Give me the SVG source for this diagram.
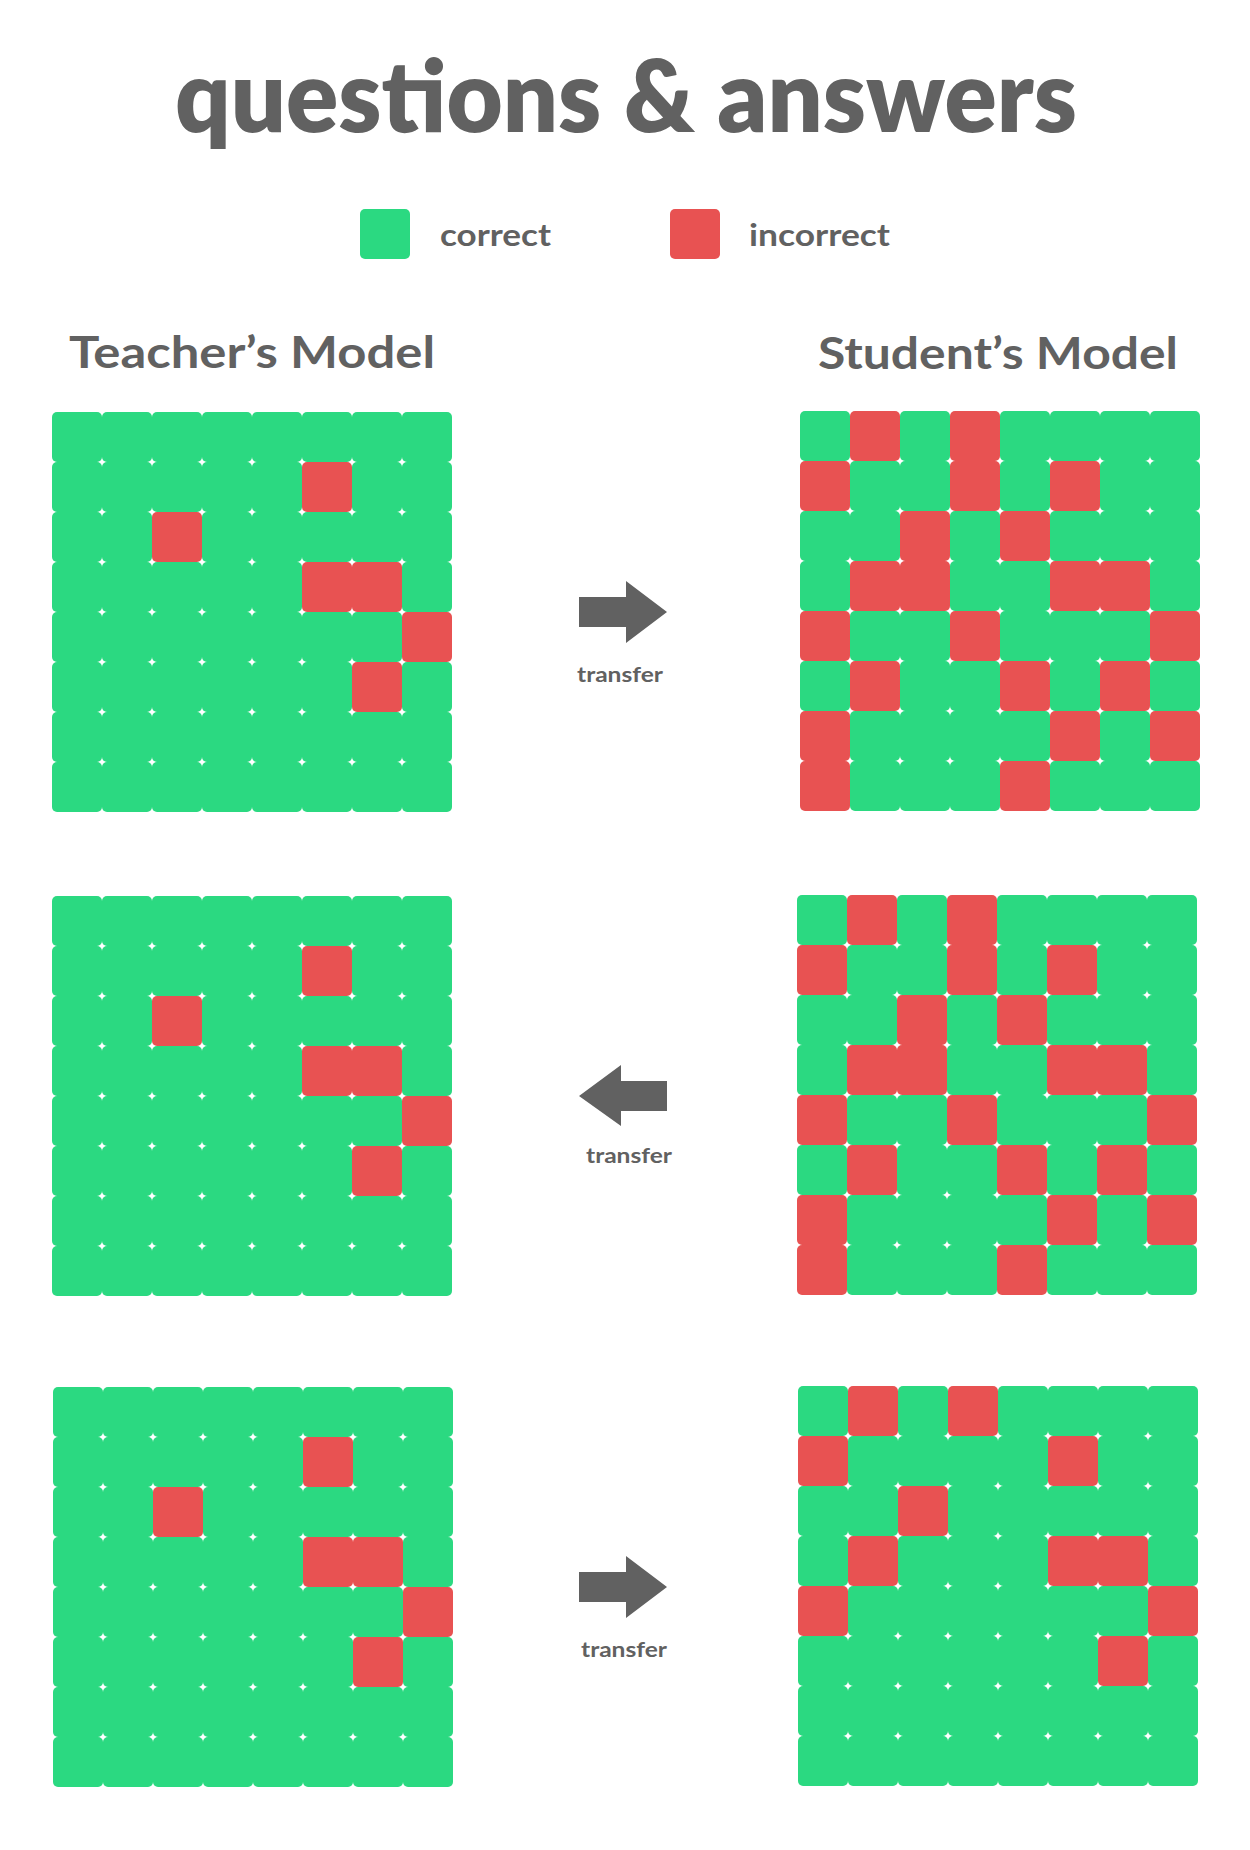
<svg xmlns="http://www.w3.org/2000/svg" xmlns:xlink="http://www.w3.org/1999/xlink" width="1250" height="1850" viewBox="0 0 1250 1850">
  <style>
    .txt { font-family: Lato, "Open Sans", "Liberation Sans", sans-serif; fill: #616161; font-weight: 700; }
    .heading { font-weight: 800; }
    .ok { fill: #2bd981; }
    .bad { fill: #e85252; }
    .arrow { fill: #616161; }
  </style>
  <defs>
    <rect id="cell" width="50" height="50" rx="5" ry="5"/>
    <!-- teacher grid: 8x8, six wrong answers -->
    <g id="teacherGrid">
      <g class="ok">
        <use xlink:href="#cell" x="0" y="0"/><use xlink:href="#cell" x="50" y="0"/><use xlink:href="#cell" x="100" y="0"/><use xlink:href="#cell" x="150" y="0"/><use xlink:href="#cell" x="200" y="0"/><use xlink:href="#cell" x="250" y="0"/><use xlink:href="#cell" x="300" y="0"/><use xlink:href="#cell" x="350" y="0"/>
        <use xlink:href="#cell" x="0" y="50"/><use xlink:href="#cell" x="50" y="50"/><use xlink:href="#cell" x="100" y="50"/><use xlink:href="#cell" x="150" y="50"/><use xlink:href="#cell" x="200" y="50"/><use xlink:href="#cell" x="300" y="50"/><use xlink:href="#cell" x="350" y="50"/>
        <use xlink:href="#cell" x="0" y="100"/><use xlink:href="#cell" x="50" y="100"/><use xlink:href="#cell" x="150" y="100"/><use xlink:href="#cell" x="200" y="100"/><use xlink:href="#cell" x="250" y="100"/><use xlink:href="#cell" x="300" y="100"/><use xlink:href="#cell" x="350" y="100"/>
        <use xlink:href="#cell" x="0" y="150"/><use xlink:href="#cell" x="50" y="150"/><use xlink:href="#cell" x="100" y="150"/><use xlink:href="#cell" x="150" y="150"/><use xlink:href="#cell" x="200" y="150"/><use xlink:href="#cell" x="350" y="150"/>
        <use xlink:href="#cell" x="0" y="200"/><use xlink:href="#cell" x="50" y="200"/><use xlink:href="#cell" x="100" y="200"/><use xlink:href="#cell" x="150" y="200"/><use xlink:href="#cell" x="200" y="200"/><use xlink:href="#cell" x="250" y="200"/><use xlink:href="#cell" x="300" y="200"/>
        <use xlink:href="#cell" x="0" y="250"/><use xlink:href="#cell" x="50" y="250"/><use xlink:href="#cell" x="100" y="250"/><use xlink:href="#cell" x="150" y="250"/><use xlink:href="#cell" x="200" y="250"/><use xlink:href="#cell" x="250" y="250"/><use xlink:href="#cell" x="350" y="250"/>
        <use xlink:href="#cell" x="0" y="300"/><use xlink:href="#cell" x="50" y="300"/><use xlink:href="#cell" x="100" y="300"/><use xlink:href="#cell" x="150" y="300"/><use xlink:href="#cell" x="200" y="300"/><use xlink:href="#cell" x="250" y="300"/><use xlink:href="#cell" x="300" y="300"/><use xlink:href="#cell" x="350" y="300"/>
        <use xlink:href="#cell" x="0" y="350"/><use xlink:href="#cell" x="50" y="350"/><use xlink:href="#cell" x="100" y="350"/><use xlink:href="#cell" x="150" y="350"/><use xlink:href="#cell" x="200" y="350"/><use xlink:href="#cell" x="250" y="350"/><use xlink:href="#cell" x="300" y="350"/><use xlink:href="#cell" x="350" y="350"/>
      </g>
      <g class="bad">
        <use xlink:href="#cell" x="250" y="50"/>
        <use xlink:href="#cell" x="100" y="100"/>
        <use xlink:href="#cell" x="250" y="150"/><use xlink:href="#cell" x="300" y="150"/>
        <use xlink:href="#cell" x="350" y="200"/>
        <use xlink:href="#cell" x="300" y="250"/>
      </g>
    </g>
    <!-- student grid before learning back from the teacher -->
    <g id="studentGridA">
      <g class="ok">
        <use xlink:href="#cell" x="0" y="0"/><use xlink:href="#cell" x="100" y="0"/><use xlink:href="#cell" x="200" y="0"/><use xlink:href="#cell" x="250" y="0"/><use xlink:href="#cell" x="300" y="0"/><use xlink:href="#cell" x="350" y="0"/>
        <use xlink:href="#cell" x="50" y="50"/><use xlink:href="#cell" x="100" y="50"/><use xlink:href="#cell" x="200" y="50"/><use xlink:href="#cell" x="300" y="50"/><use xlink:href="#cell" x="350" y="50"/>
        <use xlink:href="#cell" x="0" y="100"/><use xlink:href="#cell" x="50" y="100"/><use xlink:href="#cell" x="150" y="100"/><use xlink:href="#cell" x="250" y="100"/><use xlink:href="#cell" x="300" y="100"/><use xlink:href="#cell" x="350" y="100"/>
        <use xlink:href="#cell" x="0" y="150"/><use xlink:href="#cell" x="150" y="150"/><use xlink:href="#cell" x="200" y="150"/><use xlink:href="#cell" x="350" y="150"/>
        <use xlink:href="#cell" x="50" y="200"/><use xlink:href="#cell" x="100" y="200"/><use xlink:href="#cell" x="200" y="200"/><use xlink:href="#cell" x="250" y="200"/><use xlink:href="#cell" x="300" y="200"/>
        <use xlink:href="#cell" x="0" y="250"/><use xlink:href="#cell" x="100" y="250"/><use xlink:href="#cell" x="150" y="250"/><use xlink:href="#cell" x="250" y="250"/><use xlink:href="#cell" x="350" y="250"/>
        <use xlink:href="#cell" x="50" y="300"/><use xlink:href="#cell" x="100" y="300"/><use xlink:href="#cell" x="150" y="300"/><use xlink:href="#cell" x="200" y="300"/><use xlink:href="#cell" x="300" y="300"/>
        <use xlink:href="#cell" x="50" y="350"/><use xlink:href="#cell" x="100" y="350"/><use xlink:href="#cell" x="150" y="350"/><use xlink:href="#cell" x="250" y="350"/><use xlink:href="#cell" x="300" y="350"/><use xlink:href="#cell" x="350" y="350"/>
      </g>
      <g class="bad">
        <use xlink:href="#cell" x="50" y="0"/><use xlink:href="#cell" x="150" y="0"/>
        <use xlink:href="#cell" x="0" y="50"/><use xlink:href="#cell" x="150" y="50"/><use xlink:href="#cell" x="250" y="50"/>
        <use xlink:href="#cell" x="100" y="100"/><use xlink:href="#cell" x="200" y="100"/>
        <use xlink:href="#cell" x="50" y="150"/><use xlink:href="#cell" x="100" y="150"/><use xlink:href="#cell" x="250" y="150"/><use xlink:href="#cell" x="300" y="150"/>
        <use xlink:href="#cell" x="0" y="200"/><use xlink:href="#cell" x="150" y="200"/><use xlink:href="#cell" x="350" y="200"/>
        <use xlink:href="#cell" x="50" y="250"/><use xlink:href="#cell" x="200" y="250"/><use xlink:href="#cell" x="300" y="250"/>
        <use xlink:href="#cell" x="0" y="300"/><use xlink:href="#cell" x="250" y="300"/><use xlink:href="#cell" x="350" y="300"/>
        <use xlink:href="#cell" x="0" y="350"/><use xlink:href="#cell" x="200" y="350"/>
      </g>
    </g>
    <!-- student grid after the second transfer -->
    <g id="studentGridB">
      <g class="ok">
        <use xlink:href="#cell" x="0" y="0"/><use xlink:href="#cell" x="100" y="0"/><use xlink:href="#cell" x="200" y="0"/><use xlink:href="#cell" x="250" y="0"/><use xlink:href="#cell" x="300" y="0"/><use xlink:href="#cell" x="350" y="0"/>
        <use xlink:href="#cell" x="50" y="50"/><use xlink:href="#cell" x="100" y="50"/><use xlink:href="#cell" x="150" y="50"/><use xlink:href="#cell" x="200" y="50"/><use xlink:href="#cell" x="300" y="50"/><use xlink:href="#cell" x="350" y="50"/>
        <use xlink:href="#cell" x="0" y="100"/><use xlink:href="#cell" x="50" y="100"/><use xlink:href="#cell" x="150" y="100"/><use xlink:href="#cell" x="200" y="100"/><use xlink:href="#cell" x="250" y="100"/><use xlink:href="#cell" x="300" y="100"/><use xlink:href="#cell" x="350" y="100"/>
        <use xlink:href="#cell" x="0" y="150"/><use xlink:href="#cell" x="100" y="150"/><use xlink:href="#cell" x="150" y="150"/><use xlink:href="#cell" x="200" y="150"/><use xlink:href="#cell" x="350" y="150"/>
        <use xlink:href="#cell" x="50" y="200"/><use xlink:href="#cell" x="100" y="200"/><use xlink:href="#cell" x="150" y="200"/><use xlink:href="#cell" x="200" y="200"/><use xlink:href="#cell" x="250" y="200"/><use xlink:href="#cell" x="300" y="200"/>
        <use xlink:href="#cell" x="0" y="250"/><use xlink:href="#cell" x="50" y="250"/><use xlink:href="#cell" x="100" y="250"/><use xlink:href="#cell" x="150" y="250"/><use xlink:href="#cell" x="200" y="250"/><use xlink:href="#cell" x="250" y="250"/><use xlink:href="#cell" x="350" y="250"/>
        <use xlink:href="#cell" x="0" y="300"/><use xlink:href="#cell" x="50" y="300"/><use xlink:href="#cell" x="100" y="300"/><use xlink:href="#cell" x="150" y="300"/><use xlink:href="#cell" x="200" y="300"/><use xlink:href="#cell" x="250" y="300"/><use xlink:href="#cell" x="300" y="300"/><use xlink:href="#cell" x="350" y="300"/>
        <use xlink:href="#cell" x="0" y="350"/><use xlink:href="#cell" x="50" y="350"/><use xlink:href="#cell" x="100" y="350"/><use xlink:href="#cell" x="150" y="350"/><use xlink:href="#cell" x="200" y="350"/><use xlink:href="#cell" x="250" y="350"/><use xlink:href="#cell" x="300" y="350"/><use xlink:href="#cell" x="350" y="350"/>
      </g>
      <g class="bad">
        <use xlink:href="#cell" x="50" y="0"/><use xlink:href="#cell" x="150" y="0"/>
        <use xlink:href="#cell" x="0" y="50"/><use xlink:href="#cell" x="250" y="50"/>
        <use xlink:href="#cell" x="100" y="100"/>
        <use xlink:href="#cell" x="50" y="150"/><use xlink:href="#cell" x="250" y="150"/><use xlink:href="#cell" x="300" y="150"/>
        <use xlink:href="#cell" x="0" y="200"/><use xlink:href="#cell" x="350" y="200"/>
        <use xlink:href="#cell" x="300" y="250"/>
      </g>
    </g>
  </defs>

  <rect width="1250" height="1850" fill="#ffffff"/>

  <!-- heading and legend -->
  <g id="title">
    <text class="txt heading" x="626" y="132" font-size="100" text-anchor="middle" textLength="902" lengthAdjust="spacingAndGlyphs">questions &amp; answers</text>
  </g>
  <g id="legend-correct">
    <rect class="ok" x="360" y="209" width="50" height="50" rx="5"/>
    <text class="txt" x="440" y="246" font-size="31" textLength="111" lengthAdjust="spacingAndGlyphs">correct</text>
  </g>
  <g id="legend-incorrect">
    <rect class="bad" x="670" y="209" width="50" height="50" rx="5"/>
    <text class="txt" x="749" y="246" font-size="31" textLength="141" lengthAdjust="spacingAndGlyphs">incorrect</text>
  </g>
  <g id="label-teacher">
    <text class="txt" x="69" y="368" font-size="44" textLength="366" lengthAdjust="spacingAndGlyphs">Teacher’s Model</text>
  </g>
  <g id="label-student">
    <text class="txt" x="818" y="369" font-size="44" textLength="360" lengthAdjust="spacingAndGlyphs">Student’s Model</text>
  </g>

  <!-- model grids -->
  <g id="teacher-1"><use xlink:href="#teacherGrid" x="52" y="412"/></g>
  <g id="student-1"><use xlink:href="#studentGridA" x="800" y="411"/></g>
  <g id="teacher-2"><use xlink:href="#teacherGrid" x="52" y="896"/></g>
  <g id="student-2"><use xlink:href="#studentGridA" x="797" y="895"/></g>
  <g id="teacher-3"><use xlink:href="#teacherGrid" x="53" y="1387"/></g>
  <g id="student-3"><use xlink:href="#studentGridB" x="798" y="1386"/></g>

  <!-- transfer arrows -->
  <g id="connectors">
    <g id="transfer-1">
      <polygon class="arrow" points="579,597 626,597 626,581 667,612 626,643 626,627 579,627"/>
      <text class="txt" x="620" y="682" font-size="21" text-anchor="middle" textLength="86" lengthAdjust="spacingAndGlyphs">transfer</text>
    </g>
    <g id="transfer-2">
      <polygon class="arrow" points="667,1081 621,1081 621,1065 579,1096 621,1126 621,1111 667,1111"/>
      <text class="txt" x="629" y="1163" font-size="21" text-anchor="middle" textLength="86" lengthAdjust="spacingAndGlyphs">transfer</text>
    </g>
    <g id="transfer-3">
      <polygon class="arrow" points="579,1572 626,1572 626,1556 667,1587 626,1618 626,1602 579,1602"/>
      <text class="txt" x="624" y="1657" font-size="21" text-anchor="middle" textLength="86" lengthAdjust="spacingAndGlyphs">transfer</text>
    </g>
  </g>
</svg>
